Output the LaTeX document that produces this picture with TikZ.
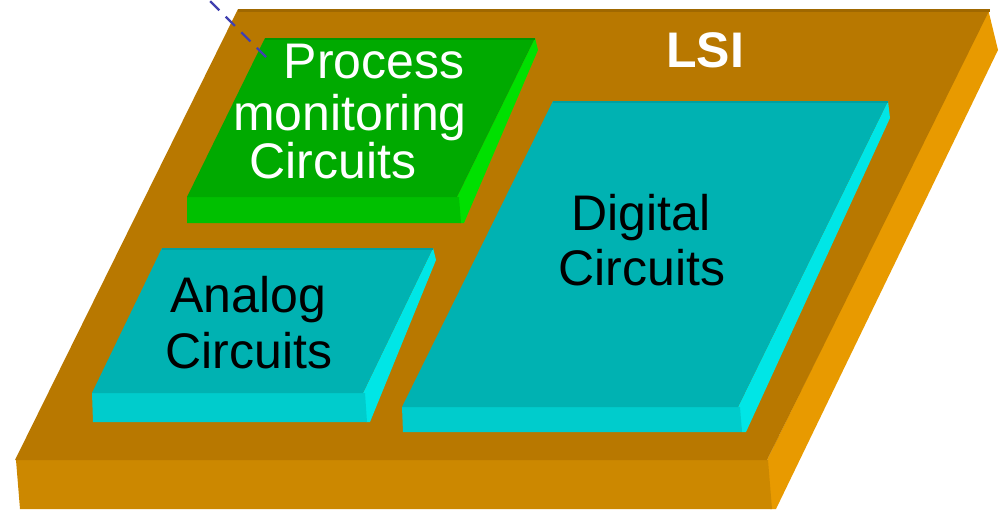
\documentclass[tikz,border=0pt]{standalone}
\usepackage{fontspec}
\setmainfont{Liberation Sans}
\usetikzlibrary{calc, positioning}
\definecolor{lsitop}{RGB}{184,120,0}
\definecolor{lsifront}{RGB}{204,136,0}
\definecolor{lsiside}{RGB}{232,154,0}
\definecolor{lsiedge}{RGB}{160,104,0}
\definecolor{cyantop}{RGB}{0,178,178}
\definecolor{cyanfront}{RGB}{0,204,204}
\definecolor{cyanside}{RGB}{0,230,230}
\definecolor{cyanedge}{RGB}{0,160,160}
\definecolor{greentop}{RGB}{0,170,0}
\definecolor{greenfront}{RGB}{0,192,0}
\definecolor{greenside}{RGB}{0,224,0}
\definecolor{greenedge}{RGB}{0,150,0}
\definecolor{leader}{RGB}{64,64,176}

\begin{document}
\begin{tikzpicture}[x=1pt, y=-1pt,
  lbl/.style={inner sep=0pt, anchor=base, font=\fontsize{50}{56}\selectfont},
  topline/.style={line width=2.5pt}]
\useasboundingbox (0,0) rectangle (999,509);
\clip (0,0) rectangle (999,509);
% LSI slab
\fill[lsiside] (988,9) -- (998,50) -- (776,509) -- (770,509) -- (767,460) -- cycle;
\fill[lsifront] (16,460) -- (768,460) -- (772,509) -- (20,509) -- cycle;
\fill[lsitop] (238,9) -- (990,9) -- (767,460) -- (15,460) -- cycle;
\draw[lsiedge, topline, line width=3pt] (238,10.5) -- (990,10.5);

% process monitoring block
\fill[greenside] (535,38) -- (538,50) -- (464,223) -- (460,223) -- (457,197) -- cycle;
\fill[greenfront] (187,197) -- (459,197) -- (461,223) -- (187,223) -- cycle;
\fill[greentop] (265,38) -- (535,38) -- (457,197) -- (187,197) -- cycle;
\draw[greenedge, topline] (265,39) -- (535,39);

% analog block
\fill[cyanside] (433,248) -- (436,260) -- (370,422) -- (366,422) -- (363,393) -- cycle;
\fill[cyanfront] (92,393) -- (365,393) -- (367,422) -- (93,422) -- cycle;
\fill[cyantop] (162,248) -- (433,248) -- (363,393) -- (92,393) -- cycle;
\draw[cyanedge, topline] (162,249) -- (433,249);

% digital block
\fill[cyanside] (888,101) -- (890,118) -- (746,432) -- (742,432) -- (738,407) -- cycle;
\fill[cyanfront] (402,407) -- (740,407) -- (742,432) -- (403,432) -- cycle;
\fill[cyantop] (553,101) -- (888,101) -- (738,407) -- (402,407) -- cycle;
\draw[cyanedge, topline] (553,102) -- (888,102);

\node[lbl, text=white, font=\fontsize{50}{56}\selectfont\bfseries] (lsi) at (705,67) {LSI};
\node[lbl, text=white] (pm1) at (374,78) {Process};
\node[lbl, text=white] (pm2) at (350,130) {monitoring};
\node[lbl, text=white] (pm3) at (333,178) {Circuits};
\node[lbl] (an1) at (248,312) {Analog};
\node[lbl] (an2) at (249,368) {Circuits};
\node[lbl] (dg1) at (641,230) {Digital};
\node[lbl] (dg2) at (642,285) {Circuits};

\coordinate (pmtip) at (266,57);
\coordinate (pmend) at (176,-33);
\draw[leader, line width=2.2pt, dash pattern=on 13pt off 9pt] (pmtip) -- (pmend);
\end{tikzpicture}
\end{document}
